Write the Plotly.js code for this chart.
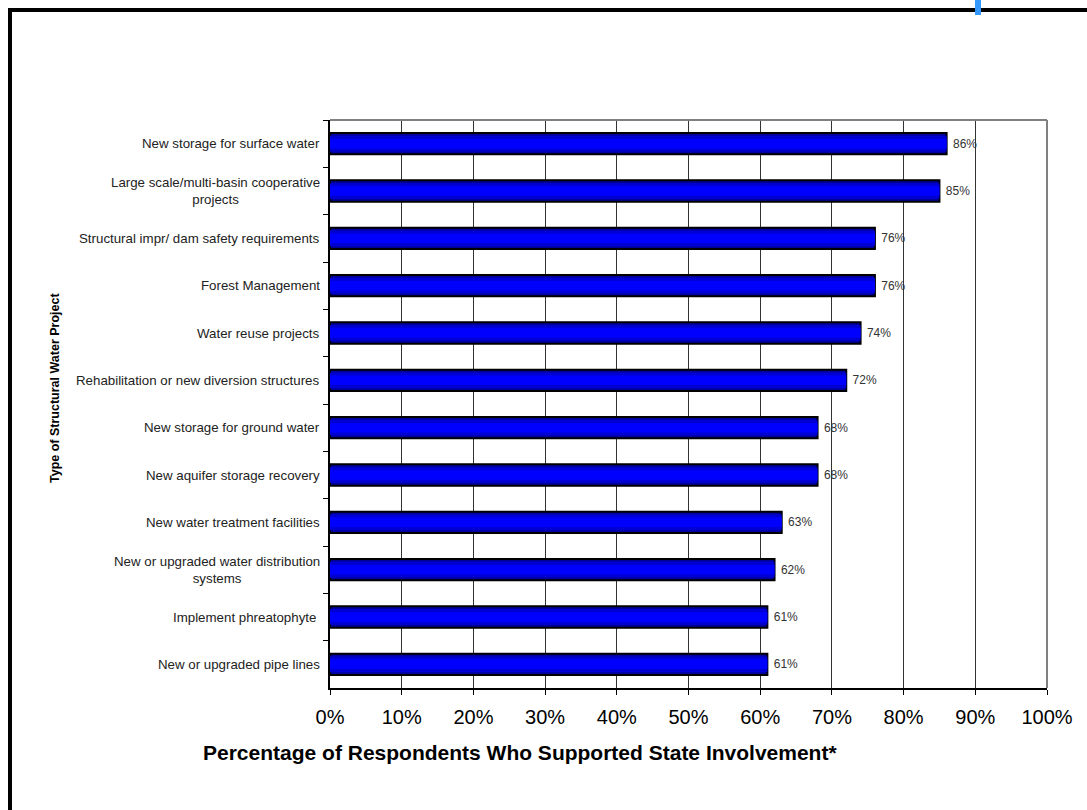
<!DOCTYPE html>
<html>
<head>
<meta charset="utf-8">
<script src="https://cdn.plot.ly/plotly-3.0.1.min.js"></script>
<style>html,body{margin:0;padding:0;background:#fff;}#chart{width:1087px;height:810px;}</style>
</head>
<body>
<div id="chart"></div>
<script>
var categories = [
  "New storage for surface water",
  "Large scale/multi-basin cooperative<br>projects",
  "Structural impr/ dam safety requirements",
  "Forest Management",
  "Water reuse projects",
  "Rehabilitation or new diversion structures",
  "New storage for ground water",
  "New aquifer storage recovery",
  "New water treatment facilities",
  "New or upgraded water distribution<br>systems",
  "Implement phreatophyte ",
  "New or upgraded pipe lines"
];
var values = [0.86, 0.85, 0.76, 0.76, 0.74, 0.72, 0.68, 0.68, 0.63, 0.62, 0.61, 0.61];
var xTickVals = [0, 0.1, 0.2, 0.3, 0.4, 0.5, 0.6, 0.7, 0.8, 0.9, 1.0];
var xTickText = ["0%", "10%", "20%", "30%", "40%", "50%", "60%", "70%", "80%", "90%", "100%"];
var xTitle = "Percentage of Respondents Who Supported State Involvement*";
var yTitle = "Type of Structural Water Project";

// pixel -> paper helpers (plot area: x 330..1047, y 120..688)
var L = 330, R = 1047, T = 120, B = 688;
function px(x) { return (x - L) / (R - L); }
function py(y) { return (B - y) / (B - T); }

var FONT = "Arial, Liberation Sans, sans-serif";

// outer bar (dark edge) with labels
var outer = {
  type: "bar", orientation: "h", y: categories, x: values, width: 0.45,
  marker: { color: "#00009C", line: { color: "#000000", width: 2 } },
  text: values.map(function (v) { return "\u00a0" + Math.round(v * 100) + "%"; }),
  textposition: "outside",
  textfont: { family: FONT, size: 12, color: "#333333" },
  cliponaxis: false, hoverinfo: "none"
};
// inner layers to mimic the shaded bar look
var middle = {
  type: "bar", orientation: "h", y: categories, x: values, width: 0.33,
  marker: { color: "#0000D4", line: { width: 0 } },
  hoverinfo: "none"
};
var inner = {
  type: "bar", orientation: "h", y: categories, x: values, width: 0.2,
  marker: { color: "#0000FF", line: { width: 0 } },
  hoverinfo: "none"
};

var annotations = categories.map(function (c) {
  return {
    xref: "paper", yref: "y", x: 0, y: c, xanchor: "right", yanchor: "middle",
    xshift: -8, align: "center", showarrow: false, text: c,
    font: { family: FONT, size: 13.3, color: "#222222" }
  };
});
annotations.push({
  xref: "paper", yref: "paper", x: px(520), y: py(752), xanchor: "center", yanchor: "middle",
  showarrow: false, text: "<b>" + xTitle + "</b>",
  font: { family: FONT, size: 21, color: "#000000" }
});
annotations.push({
  xref: "paper", yref: "paper", x: px(55), y: py(388), xanchor: "center", yanchor: "middle",
  textangle: -90, showarrow: false, text: "<b>" + yTitle + "</b>",
  font: { family: FONT, size: 12.5, color: "#000000" }
});

var shapes = [
  { type: "rect", xref: "paper", yref: "paper", x0: px(10), y0: py(830), x1: px(1110), y1: py(10),
    line: { color: "#000000", width: 4 }, fillcolor: "rgba(0,0,0,0)" },
  { type: "line", xref: "paper", yref: "paper", x0: 0, y0: 1, x1: 1, y1: 1, line: { color: "#808080", width: 2 } },
  { type: "line", xref: "paper", yref: "paper", x0: 1, y0: 0, x1: 1, y1: 1, line: { color: "#808080", width: 2 } },
  { type: "rect", xref: "paper", yref: "paper", x0: px(975), y0: py(15), x1: px(981), y1: py(-2),
    line: { width: 0 }, fillcolor: "#3399FF" }
];

var layout = {
  width: 1087, height: 810,
  margin: { l: L, r: 1087 - R, t: T, b: 810 - B, pad: 0 },
  paper_bgcolor: "#ffffff", plot_bgcolor: "#ffffff",
  showlegend: false,
  barmode: "overlay",
  xaxis: {
    range: [0, 1], tickvals: xTickVals, ticktext: xTickText,
    showgrid: true, gridcolor: "#333333", gridwidth: 1,
    zeroline: false, showline: true, linecolor: "#000000", linewidth: 2,
    ticks: "outside", ticklen: 5, tickcolor: "#000000", tickwidth: 1,
    ticklabelstandoff: 5,
    tickfont: { family: FONT, size: 20, color: "#000000" },
    fixedrange: true
  },
  yaxis: {
    type: "category", categoryorder: "array", categoryarray: categories,
    autorange: "reversed",
    showticklabels: false, showgrid: false, zeroline: false,
    showline: true, linecolor: "#000000", linewidth: 2,
    ticks: "outside", tickson: "boundaries", ticklen: 5, tickcolor: "#000000", tickwidth: 1,
    fixedrange: true
  },
  annotations: annotations,
  shapes: shapes
};

Plotly.newPlot("chart", [outer, middle, inner], layout, { displayModeBar: false, staticPlot: true });
</script>
</body>
</html>
